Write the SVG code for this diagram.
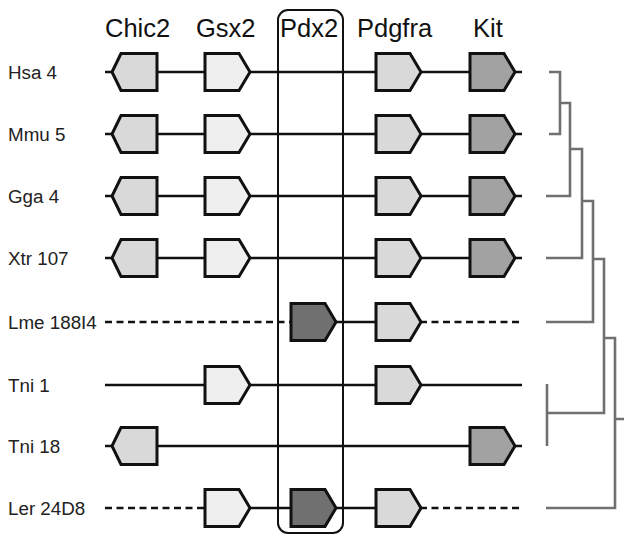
<svg xmlns="http://www.w3.org/2000/svg" xmlns:xlink="http://www.w3.org/1999/xlink" width="624" height="535" viewBox="0 0 624 535">
<style>
.hdr{font-family:"Liberation Sans",Arial,sans-serif;font-size:25.5px;fill:#111}
.lbl{font-family:"Liberation Sans",Arial,sans-serif;font-size:18.8px;fill:#222}
.chr{stroke:#111;stroke-width:2.5;fill:none}
.dash{stroke:#111;stroke-width:2.5;fill:none;stroke-dasharray:7 4.5}
.tree{stroke:#707070;stroke-width:2.6;fill:none}
.g{stroke:#111;stroke-width:3;stroke-linejoin:miter}
.chic{fill:#d9d9d9}
.gsx{fill:#efefef}
.pdg{fill:#d9d9d9}
.kit{fill:#a2a2a2}
.pdx{fill:#707070}
</style>
<defs>
<path id="R" d="M0,-18.5 H34 L45,0 L34,18.5 H0 Z"/>
<path id="L" d="M0,-18.5 H-36 L-45,0 L-36,18.5 H0 Z"/>
</defs>
<g id="headers">
<text class="hdr" x="105" y="37">Chic2</text>
<text class="hdr" x="196" y="37">Gsx2</text>
<text class="hdr" x="280" y="37">Pdx2</text>
<text class="hdr" x="357" y="37">Pdgfra</text>
<text class="hdr" x="473" y="37">Kit</text>
</g>
<g id="connectors">
<path class="chr" d="M105,72 H522 M105,134 H522 M105,196 H522 M105,258 H522"/>
<path class="dash" d="M105,322 H291"/>
<path class="chr" d="M336,322 H376"/>
<path class="dash" d="M420,322 H522"/>
<path class="chr" d="M105,385 H522 M105,446 H522"/>
<path class="dash" d="M105,508 H205"/>
<path class="chr" d="M250,508 H376"/>
<path class="dash" d="M420,508 H522"/>
<path class="tree" d="M549,72 H560 V134 H549 M560,103 H570 V196 H546 M570,149 H582 V258 H546 M582,201 H593 V322 H546 M593,259 H604 V413 H547 M547,384 V446 M604,338 H615 V508 H546 M615,419 H624"/>
</g>
<g id="pdx2-box"><rect x="278" y="10" width="65" height="523" rx="10" fill="none" stroke="#111" stroke-width="2"/></g>
<g id="row-hsa4">
<text class="lbl" x="8" y="79">Hsa 4</text>
<use xlink:href="#L" class="g chic" x="157" y="72"/>
<use xlink:href="#R" class="g gsx" x="205" y="72"/>
<use xlink:href="#R" class="g pdg" x="376" y="72"/>
<use xlink:href="#R" class="g kit" x="470" y="72"/>
</g>
<g id="row-mmu5">
<text class="lbl" x="8" y="141">Mmu 5</text>
<use xlink:href="#L" class="g chic" x="157" y="134"/>
<use xlink:href="#R" class="g gsx" x="205" y="134"/>
<use xlink:href="#R" class="g pdg" x="376" y="134"/>
<use xlink:href="#R" class="g kit" x="470" y="134"/>
</g>
<g id="row-gga4">
<text class="lbl" x="8" y="203">Gga 4</text>
<use xlink:href="#L" class="g chic" x="157" y="196"/>
<use xlink:href="#R" class="g gsx" x="205" y="196"/>
<use xlink:href="#R" class="g pdg" x="376" y="196"/>
<use xlink:href="#R" class="g kit" x="470" y="196"/>
</g>
<g id="row-xtr107">
<text class="lbl" x="8" y="265">Xtr 107</text>
<use xlink:href="#L" class="g chic" x="157" y="258"/>
<use xlink:href="#R" class="g gsx" x="205" y="258"/>
<use xlink:href="#R" class="g pdg" x="376" y="258"/>
<use xlink:href="#R" class="g kit" x="470" y="258"/>
</g>
<g id="row-lme188i4">
<text class="lbl" x="8" y="329">Lme 188I4</text>
<use xlink:href="#R" class="g pdx" x="291" y="322"/>
<use xlink:href="#R" class="g pdg" x="376" y="322"/>
</g>
<g id="row-tni1">
<text class="lbl" x="8" y="392">Tni 1</text>
<use xlink:href="#R" class="g gsx" x="205" y="385"/>
<use xlink:href="#R" class="g pdg" x="376" y="385"/>
</g>
<g id="row-tni18">
<text class="lbl" x="8" y="453">Tni 18</text>
<use xlink:href="#L" class="g chic" x="157" y="446"/>
<use xlink:href="#R" class="g kit" x="470" y="446"/>
</g>
<g id="row-ler24d8">
<text class="lbl" x="8" y="515">Ler 24D8</text>
<use xlink:href="#R" class="g gsx" x="205" y="508"/>
<use xlink:href="#R" class="g pdx" x="291" y="508"/>
<use xlink:href="#R" class="g pdg" x="376" y="508"/>
</g>
</svg>
